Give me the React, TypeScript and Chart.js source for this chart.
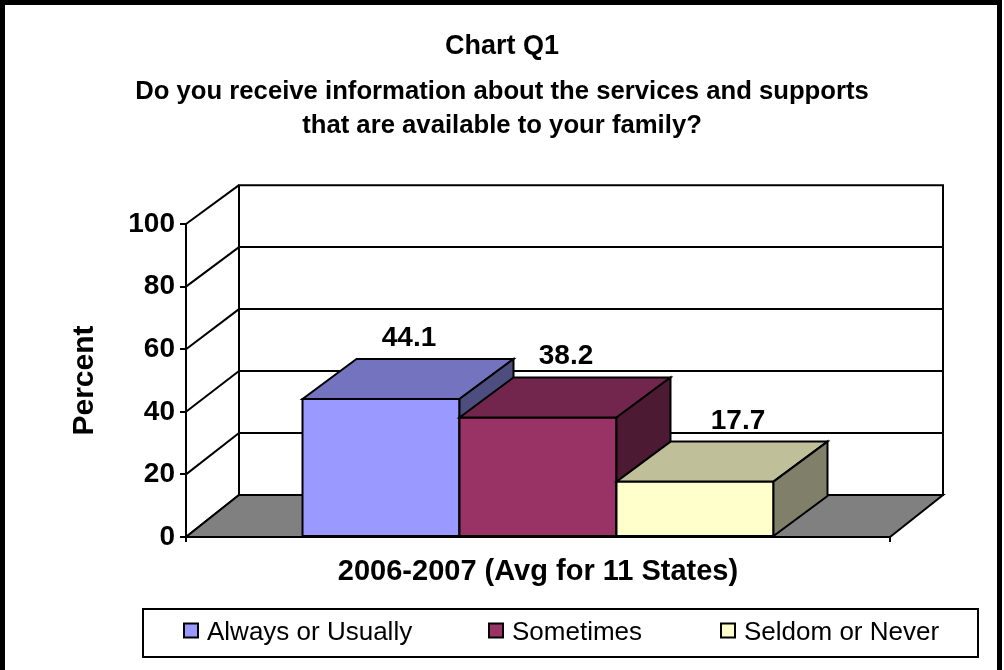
import React, { useEffect, useRef } from "react";
import { Chart, registerables } from "chart.js";

Chart.register(...registerables);

// ---------- data ----------
const categories = ["2006-2007 (Avg for 11 States)"];
const seriesNames = ["Always or Usually", "Sometimes", "Seldom or Never"];
const alwaysValues = [44.1];
const sometimesValues = [38.2];
const seldomValues = [17.7];
const yTicks = [0, 20, 40, 60, 80, 100];
const titleText = "Chart Q1";
const subtitleLines = [
  "Do you receive information about the services and supports",
  "that are available to your family?",
];
const yAxisTitle = "Percent";

// ---------- styles ----------
const FONT = "'Liberation Sans', Arial, Helvetica, sans-serif";
const FRONT = ["#9999FF", "#993366", "#FFFFCC"];
const TOP = ["#7373BF", "#73264D", "#BFBF99"];
const SIDE = ["#4D4D80", "#4D1A33", "#80806A"];
const FLOOR = "#808080";
const WALL_DX = 53;
const WALL_DY = 42;
const BAR_DX = 54;
const BAR_DY = 40;
const LABEL_DX = [1, 1, 16];

const threeD = {
  id: "threeD",
  beforeDraw(chart: any) {
    const { ctx, width, height } = chart;
    ctx.save();
    ctx.fillStyle = "#fff";
    ctx.fillRect(0, 0, width, height);
    ctx.restore();
  },
  beforeDatasetsDraw(chart: any) {
    const { ctx, chartArea, scales } = chart;
    const yS = scales.y;
    const L = chartArea.left;
    const R = chartArea.right;
    const B = chartArea.bottom;
    const backY = (v: number) => B - WALL_DY - (B - yS.getPixelForValue(v)) * 0.99;
    const maxV = yTicks[yTicks.length - 1];
    ctx.save();
    ctx.strokeStyle = "#000";
    ctx.lineWidth = 2;
    ctx.lineJoin = "miter";
    // back wall
    ctx.fillStyle = "#fff";
    ctx.beginPath();
    ctx.rect(L + WALL_DX, backY(maxV), R - L, B - WALL_DY - backY(maxV));
    ctx.fill();
    ctx.stroke();
    // back gridlines and side-wall diagonals
    yTicks.forEach((v) => {
      const by = backY(v);
      if (v !== 0 && v !== maxV) {
        ctx.beginPath();
        ctx.moveTo(L + WALL_DX, by);
        ctx.lineTo(R + WALL_DX, by);
        ctx.stroke();
      }
      ctx.beginPath();
      ctx.moveTo(L, yS.getPixelForValue(v));
      ctx.lineTo(L + WALL_DX, by);
      ctx.stroke();
    });
    // floor
    ctx.fillStyle = FLOOR;
    ctx.beginPath();
    ctx.moveTo(L, B);
    ctx.lineTo(R, B);
    ctx.lineTo(R + WALL_DX, B - WALL_DY);
    ctx.lineTo(L + WALL_DX, B - WALL_DY);
    ctx.closePath();
    ctx.fill();
    ctx.stroke();
    ctx.restore();
  },
  afterDatasetsDraw(chart: any) {
    const { ctx } = chart;
    ctx.save();
    ctx.strokeStyle = "#000";
    ctx.lineWidth = 2;
    ctx.lineJoin = "miter";
    const labels: any[] = [];
    chart.data.datasets.forEach((ds: any, i: number) => {
      const meta = chart.getDatasetMeta(i);
      meta.data.forEach((el: any, j: number) => {
        const { x, y, base, width } = el.getProps(["x", "y", "base", "width"], true);
        const l = x - width / 2;
        const r = x + width / 2;
        // front
        ctx.fillStyle = FRONT[i];
        ctx.beginPath();
        ctx.rect(l, y, r - l, base - y);
        ctx.fill();
        ctx.stroke();
        // top
        ctx.fillStyle = TOP[i];
        ctx.beginPath();
        ctx.moveTo(l, y);
        ctx.lineTo(l + BAR_DX, y - BAR_DY);
        ctx.lineTo(r + BAR_DX, y - BAR_DY);
        ctx.lineTo(r, y);
        ctx.closePath();
        ctx.fill();
        ctx.stroke();
        // side
        ctx.fillStyle = SIDE[i];
        ctx.beginPath();
        ctx.moveTo(r, y);
        ctx.lineTo(r + BAR_DX, y - BAR_DY);
        ctx.lineTo(r + BAR_DX, base - BAR_DY);
        ctx.lineTo(r, base);
        ctx.closePath();
        ctx.fill();
        ctx.stroke();
        labels.push({
          text: Number(ds.data[j]).toFixed(1),
          x: x + BAR_DX / 2 + LABEL_DX[i],
          y: y - BAR_DY - 13,
        });
      });
    });
    ctx.fillStyle = "#000";
    ctx.font = `bold 28px ${FONT}`;
    ctx.textAlign = "center";
    ctx.textBaseline = "alphabetic";
    labels.forEach((lb) => ctx.fillText(lb.text, lb.x, lb.y));
    ctx.restore();
  },
  afterDraw(chart: any) {
    const { ctx } = chart;
    ctx.save();
    // legend
    ctx.strokeStyle = "#000";
    ctx.lineWidth = 2;
    ctx.strokeRect(143, 609, 835, 48);
    const itemX = [183, 488, 720];
    ctx.font = `26px ${FONT}`;
    ctx.textAlign = "left";
    ctx.textBaseline = "alphabetic";
    chart.data.datasets.forEach((ds: any, i: number) => {
      const sx = itemX[i];
      ctx.fillStyle = ds.backgroundColor;
      ctx.lineWidth = 2;
      ctx.beginPath();
      ctx.rect(sx + 1, 623.5, 14, 14);
      ctx.fill();
      ctx.stroke();
      ctx.fillStyle = "#000";
      ctx.fillText(ds.label, sx + 24, 639.5);
    });
    // outer frame
    ctx.lineWidth = 5;
    ctx.strokeRect(2.5, 2.5, 997, 720);
    ctx.restore();
  },
};

export default function App() {
  const ref = useRef<HTMLCanvasElement>(null);
  useEffect(() => {
    document.body.style.margin = "0";
    const seriesValues = [alwaysValues, sometimesValues, seldomValues];
    const chart = new Chart(ref.current as HTMLCanvasElement, {
      type: "bar",
      data: {
        labels: categories,
        datasets: seriesNames.map((name, i) => ({
          label: name,
          data: seriesValues[i],
          backgroundColor: FRONT[i],
          borderColor: "#000",
          borderWidth: 2,
          borderSkipped: false,
          categoryPercentage: 0.669,
          barPercentage: 1,
        })),
      },
      options: {
        responsive: false,
        animation: false,
        devicePixelRatio: 1,
        layout: { padding: 0 },
        plugins: {
          legend: { display: false },
          tooltip: { enabled: false },
          title: {
            display: true,
            text: titleText,
            color: "#000",
            font: { family: FONT, size: 27, weight: "bold", lineHeight: 1.2 },
            padding: { top: 30.8, bottom: 0 },
          },
          subtitle: {
            display: true,
            text: subtitleLines,
            color: "#000",
            font: { family: FONT, size: 25.7, weight: "bold", lineHeight: 34 / 25.7 },
            padding: { top: 11.8, bottom: 81 },
          },
        },
        scales: {
          x: {
            type: "category",
            offset: true,
            grid: {
              display: true,
              drawOnChartArea: false,
              drawTicks: true,
              tickLength: 5,
              color: "#000",
              lineWidth: 2,
              offset: true,
            },
            border: { display: true, color: "#000", width: 2 },
            ticks: {
              color: "#000",
              font: { family: FONT, size: 29, weight: "bold", lineHeight: 1.2 },
              padding: 13,
              maxRotation: 0,
              autoSkip: false,
            },
            afterFit: (s: any) => {
              s.height = 133;
            },
          },
          y: {
            type: "linear",
            position: "left",
            min: 0,
            max: 100,
            afterBuildTicks: (s: any) => {
              s.ticks = yTicks.map((v) => ({ value: v }));
            },
            grid: {
              display: true,
              drawOnChartArea: false,
              drawTicks: true,
              tickLength: 6,
              color: "#000",
              lineWidth: 2,
            },
            border: { display: true, color: "#000", width: 2 },
            ticks: {
              color: "#000",
              font: { family: FONT, size: 28, weight: "bold" },
              padding: 5,
            },
            title: {
              display: true,
              text: yAxisTitle,
              color: "#000",
              font: { family: FONT, size: 30, weight: "bold", lineHeight: 1.2 },
              padding: { top: 67, bottom: 0 },
            },
            afterFit: (s: any) => {
              s.width = 186;
            },
          },
          yR: {
            type: "linear",
            position: "right",
            display: true,
            grid: { display: false, drawTicks: false },
            border: { display: false },
            ticks: { display: false },
            afterFit: (s: any) => {
              s.width = 114;
            },
          },
        },
      },
      plugins: [threeD],
    } as any);
    return () => chart.destroy();
  }, []);
  return (
    <div style={{ width: 1004, height: 670 }}>
      <canvas ref={ref} width={1004} height={670} style={{ display: "block" }} />
    </div>
  );
}
